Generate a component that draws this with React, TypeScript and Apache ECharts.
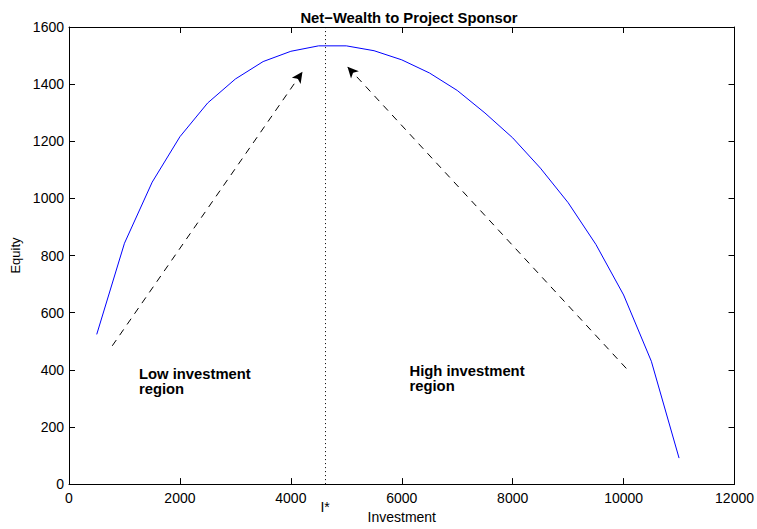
import React, { useEffect, useRef } from "react";
import * as echarts from "echarts";

const investment = [500, 1000, 1500, 2000, 2500, 3000, 3500, 4000, 4500, 5000, 5500, 6000, 6500, 7000, 7500, 8000, 8500, 9000, 9500, 10000, 10500, 11000];
const equity = [524, 843, 1057, 1216, 1334, 1418, 1479, 1515, 1534, 1534, 1517, 1485, 1439, 1378, 1299, 1212, 1106, 985, 839, 662, 430, 91];
const optimalInvestment = 4618;
const lowArrow = [[780, 484], [4210, 1443]];
const highArrow = [[10048, 405], [5021, 1461]];
const lowLabel = { text: "Low investment\nregion", at: [1261, 413] };
const highLabel = { text: "High investment\nregion", at: [6139, 421] };

const FONT = "'Liberation Sans', Arial, Helvetica, sans-serif";

export default function App() {
  const ref = useRef<HTMLDivElement>(null);
  useEffect(() => {
    const chart = echarts.init(ref.current!, null, { renderer: "svg" });
    const axisCommon = {
      type: "value" as const,
      axisLine: { show: true, onZero: false, lineStyle: { color: "#000", width: 1 } },
      axisTick: { show: true, inside: true, length: 6, lineStyle: { color: "#000" } },
      splitLine: { show: false },
    };
    const plain = (v: number) => String(v);
    const textLabel = (t: string) => ({
      show: true,
      position: "inside",
      align: "left",
      verticalAlign: "top",
      formatter: t,
      color: "#000",
      fontFamily: FONT,
      fontWeight: "bold",
      fontSize: 14.8,
      lineHeight: 15,
    });
    chart.setOption({
      animation: false,
      backgroundColor: "#fff",
      title: {
        text: "Net\u2212Wealth to Project Sponsor",
        left: 404,
        top: 5,
        textAlign: "center",
        textStyle: { fontFamily: FONT, fontWeight: "bold", fontSize: 14.8, color: "#000" },
      },
      grid: { left: 69, right: 22, top: 27, bottom: 40, show: false },
      xAxis: [
        {
          ...axisCommon,
          min: 0,
          max: 12000,
          interval: 2000,
          position: "bottom",
          name: "Investment",
          nameLocation: "middle",
          nameGap: 22,
          nameTextStyle: { fontFamily: FONT, fontSize: 14, color: "#000" },
          axisLabel: { margin: 7, color: "#000", fontFamily: FONT, fontSize: 14, formatter: plain },
        },
        {
          ...axisCommon,
          min: 0,
          max: 12000,
          interval: 2000,
          position: "top",
          axisLabel: { show: false },
        },
      ],
      yAxis: [
        {
          ...axisCommon,
          min: 0,
          max: 1600,
          interval: 200,
          position: "left",
          name: "Equity",
          nameLocation: "middle",
          nameGap: 46,
          nameTextStyle: { fontFamily: FONT, fontSize: 13, color: "#000" },
          axisLabel: { margin: 5, color: "#000", fontFamily: FONT, fontSize: 14, formatter: plain },
        },
        {
          ...axisCommon,
          min: 0,
          max: 1600,
          interval: 200,
          position: "right",
          axisLabel: { show: false },
        },
      ],
      series: [
        {
          type: "line",
          data: investment.map((x, i) => [x, equity[i]]),
          showSymbol: false,
          symbol: "none",
          lineStyle: { color: "#0000ff", width: 1 },
          silent: true,
          markLine: {
            silent: true,
            symbol: "none",
            animation: false,
            lineStyle: { color: "#000", type: [1, 3], width: 1 },
            label: {
              show: true,
              position: "start",
              distance: 16,
              formatter: "I*",
              color: "#000",
              fontFamily: FONT,
              fontSize: 14,
            },
            data: [{ xAxis: optimalInvestment }],
          },
        },
        {
          type: "line",
          data: [],
          silent: true,
          markLine: {
            silent: true,
            symbol: ["none", "arrow"],
            symbolSize: [8, 11],
            animation: false,
            label: { show: false },
            lineStyle: { color: "#000", type: [7, 6], width: 1 },
            data: [
              [{ coord: lowArrow[0] }, { coord: lowArrow[1] }],
              [{ coord: highArrow[0] }, { coord: highArrow[1] }],
            ],
          },
          markPoint: {
            silent: true,
            symbol: "circle",
            symbolSize: 1,
            itemStyle: { color: "rgba(0,0,0,0)" },
            data: [
              { coord: lowLabel.at, label: textLabel(lowLabel.text) },
              { coord: highLabel.at, label: textLabel(highLabel.text) },
            ],
          },
        },
      ],
    });
    return () => chart.dispose();
  }, []);
  return (
    <div
      ref={ref}
      style={{ position: "fixed", left: 0, top: 0, width: 757, height: 529 }}
    />
  );
}
